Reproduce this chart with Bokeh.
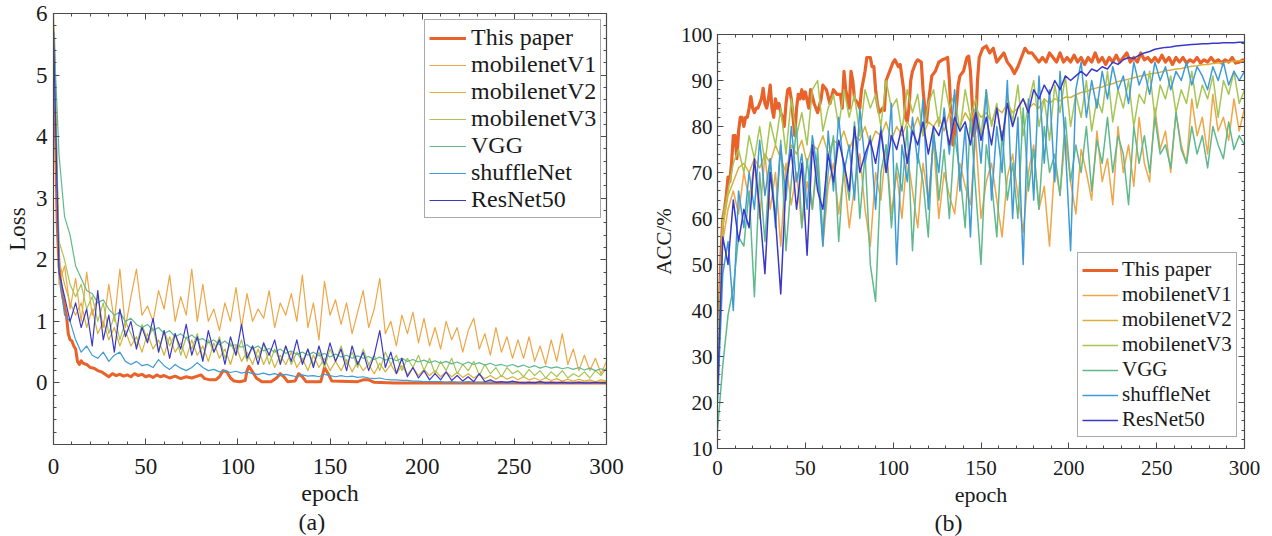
from bokeh.plotting import figure
from bokeh.models import (Range1d, LinearAxis, FixedTicker, Legend, LegendItem,
                          Title, CustomJSTickFormatter)
from bokeh.layouts import row, column
from bokeh.embed import file_html
from bokeh.resources import INLINE

# ---------------- data ----------------
series_names = ["This paper", "mobilenetV1", "mobilenetV2", "mobilenetV3",
                "VGG", "shuffleNet", "ResNet50"]
epochs = list(range(0, 301, 3))  # sampled epochs for the noisy curves

# ---- (a) Loss ----
loss_ours_epoch = [0, 1, 2, 3, 4, 5, 6, 7, 8, 9, 10, 11, 12, 13, 14, 15, 16, 18, 20, 22, 24, 26, 28,
                   30, 32, 34, 36, 38, 40, 42, 44, 46, 48, 50, 52, 54, 56, 58, 60, 63, 66, 69, 72,
                   75, 78, 80, 82, 85, 88, 90, 92, 94, 96, 98, 101, 104, 105, 106, 108, 110, 113,
                   118, 121, 123, 125, 127, 131, 133, 135, 137, 145, 147, 149, 151, 165, 168, 171,
                   174, 185, 300]
loss_ours = [5.7, 4.2, 2.6, 1.9, 1.6, 1.4, 1.25, 1.1, 0.8, 0.7, 0.68, 0.6, 0.55, 0.35, 0.3, 0.36,
             0.32, 0.3, 0.25, 0.24, 0.2, 0.18, 0.14, 0.1, 0.15, 0.12, 0.14, 0.11, 0.13, 0.1, 0.15,
             0.12, 0.14, 0.1, 0.12, 0.09, 0.13, 0.1, 0.12, 0.08, 0.11, 0.07, 0.1, 0.08, 0.11, 0.13,
             0.07, 0.05, 0.05, 0.1, 0.2, 0.18, 0.08, 0.03, 0.02, 0.04, 0.2, 0.27, 0.18, 0.08, 0.02,
             0.02, 0.08, 0.15, 0.1, 0.02, 0.03, 0.15, 0.1, 0.02, 0.02, 0.25, 0.15, 0.03, 0.02,
             0.05, 0.05, 0.01, 0.0, 0.0]

loss_v1 = [6.0, 1.6, 1.9, 1.2, 1.7, 1.0, 1.8, 1.1, 1.4, 0.9,
           1.6, 1.0, 1.85, 0.9, 1.4, 1.85, 1.1, 1.25, 1.0, 1.5,
           1.2, 1.75, 1.0, 1.4, 1.1, 1.85, 1.0, 1.6, 1.0, 1.2,
           0.85, 1.3, 1.0, 1.55, 0.9, 1.45, 1.0, 1.2, 1.05, 1.5,
           0.9, 1.3, 1.1, 1.45, 1.0, 1.75, 0.9, 1.3, 0.7, 1.65,
           1.1, 1.35, 0.95, 1.3, 0.8, 1.15, 1.5, 0.9, 1.2, 1.7,
           0.8, 1.0, 0.6, 1.1, 0.8, 1.15, 0.65, 1.05, 0.6, 0.9,
           0.55, 1.0, 0.7, 0.9, 0.5, 0.85, 1.05, 0.55, 0.8, 0.45,
           0.9, 0.5, 0.75, 0.4, 0.7, 0.4, 0.75, 0.35, 0.6, 0.3,
           0.7, 0.35, 0.8, 0.3, 0.55, 0.2, 0.45, 0.2, 0.4, 0.15,
           0.35]
loss_v2 = [5.9, 2.0, 1.6, 1.3, 1.1, 1.3, 0.9, 1.2, 0.8, 1.0,
           0.7, 0.9, 0.6, 0.85, 0.6, 0.75, 0.5, 0.8, 0.55, 0.7,
           0.45, 0.75, 0.5, 0.65, 0.4, 0.7, 0.45, 0.6, 0.35, 0.65,
           0.4, 0.55, 0.3, 0.6, 0.35, 0.5, 0.3, 0.55, 0.3, 0.5,
           0.25, 0.45, 0.3, 0.5, 0.25, 0.4, 0.2, 0.45, 0.25, 0.4,
           0.2, 0.35, 0.2, 0.38, 0.18, 0.35, 0.2, 0.3, 0.15, 0.32,
           0.18, 0.3, 0.15, 0.28, 0.14, 0.25, 0.12, 0.22, 0.12, 0.2,
           0.1, 0.18, 0.1, 0.17, 0.09, 0.15, 0.08, 0.14, 0.07, 0.12,
           0.06, 0.12, 0.06, 0.1, 0.05, 0.1, 0.05, 0.08, 0.04, 0.08,
           0.04, 0.07, 0.03, 0.06, 0.03, 0.06, 0.03, 0.05, 0.02, 0.05,
           0.03]
loss_v3 = [5.8, 2.3, 2.0, 1.6, 1.4, 1.6, 1.2, 1.4, 1.0, 1.3,
           0.8, 1.1, 0.7, 1.0, 0.8, 0.6, 0.95, 0.7, 0.9, 0.5,
           0.85, 0.6, 0.8, 0.45, 0.75, 0.55, 0.8, 0.4, 0.7, 0.5,
           0.75, 0.4, 0.65, 0.45, 0.7, 0.35, 0.6, 0.4, 0.65, 0.3,
           0.55, 0.35, 0.6, 0.3, 0.5, 0.35, 0.55, 0.3, 0.5, 0.25,
           0.55, 0.35, 0.6, 0.3, 0.5, 0.25, 0.55, 0.3, 0.45, 0.2,
           0.5, 0.3, 0.45, 0.2, 0.4, 0.25, 0.45, 0.2, 0.4, 0.15,
           0.35, 0.2, 0.4, 0.15, 0.3, 0.2, 0.35, 0.12, 0.3, 0.15,
           0.25, 0.1, 0.25, 0.15, 0.2, 0.1, 0.22, 0.12, 0.2, 0.08,
           0.18, 0.1, 0.2, 0.08, 0.15, 0.1, 0.18, 0.08, 0.2, 0.12,
           0.25]
loss_vgg = [5.8, 3.7, 2.7, 2.4, 1.9, 1.7, 1.5, 1.45, 1.3, 1.35,
            1.2, 1.1, 1.15, 1.0, 1.05, 0.95, 0.9, 0.95, 0.85, 0.9,
            0.8, 0.85, 0.75, 0.8, 0.72, 0.78, 0.7, 0.72, 0.65, 0.7,
            0.62, 0.68, 0.6, 0.62, 0.58, 0.62, 0.55, 0.6, 0.52, 0.56,
            0.5, 0.55, 0.48, 0.52, 0.46, 0.5, 0.45, 0.5, 0.44, 0.48,
            0.42, 0.47, 0.42, 0.45, 0.4, 0.44, 0.4, 0.43, 0.38, 0.42,
            0.37, 0.4, 0.36, 0.4, 0.35, 0.38, 0.34, 0.37, 0.33, 0.36,
            0.32, 0.35, 0.31, 0.34, 0.3, 0.34, 0.3, 0.33, 0.29, 0.32,
            0.28, 0.3, 0.27, 0.3, 0.26, 0.29, 0.25, 0.28, 0.24, 0.27,
            0.24, 0.26, 0.23, 0.25, 0.22, 0.25, 0.21, 0.24, 0.2, 0.23,
            0.2]
loss_shuffle = [5.7, 1.8, 1.1, 1.0, 0.7, 0.5, 0.6, 0.45, 0.4, 0.5,
                0.35, 0.45, 0.5, 0.35, 0.3, 0.35, 0.28, 0.3, 0.25, 0.38,
                0.28, 0.22, 0.3, 0.24, 0.2, 0.25, 0.33, 0.25, 0.2, 0.22,
                0.18, 0.2, 0.17, 0.19, 0.16, 0.18, 0.15, 0.14, 0.16, 0.13,
                0.15, 0.12, 0.14, 0.12, 0.1, 0.13, 0.11, 0.12, 0.1, 0.14,
                0.12, 0.1, 0.12, 0.1, 0.11, 0.09, 0.1, 0.08, 0.07, 0.08,
                0.06, 0.05, 0.05, 0.04, 0.04, 0.03, 0.03, 0.02, 0.02, 0.02,
                0.02, 0.01, 0.02, 0.01, 0.01, 0.02, 0.01, 0.01, 0.01, 0.01,
                0.01, 0.01, 0.0, 0.01, 0.01, 0.0, 0.01, 0.0, 0.01, 0.0,
                0.01, 0.0, 0.01, 0.0, 0.0, 0.01, 0.0, 0.0, 0.01, 0.0,
                0.0]
loss_resnet = [5.7, 1.8, 1.4, 1.0, 1.3, 0.9, 1.2, 0.6, 1.5, 0.7,
               1.1, 0.5, 1.2, 0.75, 1.0, 0.55, 0.9, 0.65, 1.05, 0.5,
               0.85, 0.4, 0.8, 0.55, 0.95, 0.45, 0.75, 0.35, 0.85, 0.5,
               0.7, 0.3, 0.75, 0.45, 0.95, 0.4, 0.6, 0.3, 0.65, 0.45,
               0.7, 0.3, 0.6, 0.35, 0.7, 0.3, 0.55, 0.25, 0.6, 0.3,
               0.65, 0.35, 0.55, 0.2, 0.6, 0.3, 0.5, 0.2, 0.45, 0.85,
               0.25, 0.5, 0.15, 0.4, 0.1, 0.25, 0.08, 0.2, 0.05, 0.15,
               0.05, 0.18, 0.04, 0.12, 0.03, 0.1, 0.02, 0.15, 0.02, 0.05,
               0.01, 0.02, 0.01, 0.03, 0.01, 0.0, 0.01, 0.0, 0.02, 0.0,
               0.01, 0.0, 0.01, 0.0, 0.0, 0.01, 0.0, 0.0, 0.01, 0.0,
               0.0]

# ---- (b) ACC ----
acc_ours_epoch = [0, 1, 2, 3, 4, 5, 6, 7, 8, 9, 10, 11, 12, 13, 14, 15, 16, 17, 18, 19, 20, 21, 22,
                  23, 24, 25, 26, 27, 28, 29, 30, 31, 32, 33, 34, 35, 36, 37, 38, 39, 40, 41, 42,
                  43, 44, 45, 46, 47, 48, 49, 50, 52, 53, 55, 57, 59, 60, 62, 64, 66, 68, 70, 71,
                  72, 73, 75, 76, 77, 78, 80, 81, 82, 84, 85, 87, 88, 89, 90, 91, 92, 94, 95, 96,
                  98, 100, 101, 103, 104, 106, 107, 108, 109, 110, 111, 113, 114, 116, 117, 118,
                  119, 120, 122, 124, 126, 128, 130, 131, 132, 133, 134, 135, 136, 137, 138, 140,
                  142, 143, 144, 145, 146, 147, 148, 149, 151, 153, 155, 157, 159, 161, 163, 165,
                  167, 169, 171, 173, 175, 177, 179, 181, 183, 185, 187, 189, 191, 193, 195, 197,
                  199, 201, 203, 205, 207, 209, 211, 213, 215, 217, 219, 221, 223, 225, 227, 229,
                  231, 233, 235, 237, 239, 241, 243, 245, 247, 249, 251, 253, 255, 257, 259, 261,
                  263, 265, 267, 269, 271, 273, 275, 277, 279, 281, 283, 285, 287, 289, 291, 293,
                  295, 297, 299, 300]
acc_ours = [24, 40, 52, 60, 62, 65, 69, 68, 72, 78, 78, 73, 79, 82, 82, 80, 82, 82, 84, 86.5, 84,
            83, 84, 84, 85, 86, 88.3, 85, 84, 86, 89, 84, 82, 86, 84, 85, 83, 82, 80, 85, 88,
            88.3, 86, 82, 78, 84, 87, 86, 88, 86, 87.5, 84, 88, 85, 83, 86, 89, 88, 85, 88, 87,
            87, 84, 92, 88, 84, 92, 90, 86, 85, 84, 88, 92, 95, 95, 93, 93, 88, 85, 83, 84, 83.5,
            90, 92, 94, 94.5, 93, 93.5, 88, 82, 81, 84, 90, 92, 94, 94.5, 94, 88, 84, 81, 85, 91,
            92, 94, 94.5, 94.8, 95, 90, 82, 76, 78, 84, 89, 91, 92, 95, 95.3, 92, 85, 78, 80, 90,
            95, 97, 97.5, 96, 97, 94, 95, 96, 94, 93, 91.5, 93, 95, 97, 96, 96, 95, 94, 95, 94,
            96, 95, 94, 96, 94, 95, 94, 95.5, 94, 95, 93.5, 95, 94, 96, 94, 95, 93.5, 95, 94,
            95.5, 94, 95, 96, 94, 95, 94, 96, 94.5, 95, 94, 95, 94, 95.5, 94, 95, 93.5, 95, 94,
            95, 93.8, 94.5, 94, 95, 93.8, 94.5, 94, 95, 94, 94.5, 93.8, 94.5, 94, 95, 93.8, 94,
            94.5, 94.3]

acc_v1 = [25, 55, 62, 66, 61, 70, 64, 72, 60, 74,
          62, 70, 54, 72, 63, 70, 58, 68, 62, 73,
          54, 67, 72, 61, 70, 58, 67, 74, 62, 54,
          70, 64, 76, 61, 70, 60, 74, 66, 58, 72,
          64, 77, 60, 70, 65, 61, 72, 67, 63, 78,
          60, 68, 72, 64, 56, 69, 74, 65, 57, 70,
          76, 62, 67, 54, 72, 65, 78, 68, 61, 75,
          70, 64, 79, 68, 73, 63, 80, 70, 76, 67,
          82, 72, 68, 84, 75, 79, 70, 83, 76, 72,
          86, 78, 82, 74, 87, 79, 82, 77, 86, 79,
          84]
acc_v2 = [30, 58, 65, 68, 71, 72, 70, 73, 71, 74,
          72, 76, 73, 70, 76, 74, 77, 72, 76, 75,
          78, 74, 77, 76, 79, 75, 78, 77, 80, 76,
          79, 78, 81, 77, 80, 78, 81, 79, 82, 78,
          81, 80, 82, 79, 83, 81, 80, 83, 81, 84,
          82, 83, 81, 84, 83, 85, 83, 84, 86, 84,
          85, 84, 86, 85, 86, 85.6, 86.4, 86.3, 86.9, 87.4,
          87.6, 88.1, 88.4, 88.6, 89.1, 89.3, 89.8, 90.0, 90.3, 90.6,
          90.9, 91.1, 91.4, 91.6, 91.8, 92.1, 92.3, 92.5, 92.6, 92.9,
          93.1, 93.2, 93.4, 93.5, 93.7, 93.8, 93.9, 94.0, 94.2, 94.3,
          94.3]
acc_v3 = [28, 60, 66, 72, 75, 70, 78, 73, 80, 72,
          81, 76, 84, 74, 86, 78, 83, 76, 88, 90,
          79, 84, 87, 80, 88, 82, 87, 78, 88, 84,
          87, 80, 90, 84, 86, 79, 88, 83, 87, 78,
          85, 88, 80, 90, 84, 87, 79, 88, 82, 86,
          78, 88, 80, 85, 76, 87, 81, 89, 78, 85,
          90, 80, 86, 77, 89, 83, 91, 80, 87, 82,
          90, 79, 86, 83, 92, 81, 88, 84, 90, 80,
          87, 85, 92, 82, 89, 86, 91, 83, 88, 85,
          92, 84, 89, 86, 91, 82, 90, 87, 92, 85,
          88]
acc_vgg = [14, 28, 39, 45, 56, 54, 66, 43, 70, 55,
           73, 60, 77, 53, 68, 80, 58, 73, 62, 75,
           56, 70, 78, 55, 72, 64, 81, 60, 74, 50,
           42, 70, 76, 58, 72, 66, 80, 53, 74, 68,
           56, 80, 64, 75, 60, 78, 70, 58, 82, 66,
           50, 76, 68, 56, 79, 64, 72, 60, 84, 66,
           75, 62, 80, 70, 74, 65, 82, 68, 76, 70,
           80, 66, 77, 72, 82, 70, 78, 74, 63, 80,
           72, 78, 70, 82, 74, 76, 71, 83, 75, 72,
           80, 74, 78, 71, 80, 76, 73, 81, 75, 78,
           76]
acc_shuffle = [20, 48, 55, 40, 66, 58, 70, 62, 77, 65,
               73, 58, 76, 64, 80, 68, 74, 62, 78, 70,
               54, 79, 66, 82, 70, 76, 64, 84, 72, 78,
               62, 80, 70, 85, 50, 76, 68, 82, 72, 86,
               62, 78, 70, 84, 74, 88, 66, 80, 56, 84,
               72, 88, 64, 80, 70, 90, 60, 82, 50, 86,
               64, 91, 72, 88, 68, 92, 76, 53, 88, 94,
               82, 90, 84, 92, 86, 93, 88, 91, 85, 94,
               89, 92, 87, 94, 90, 93, 88, 92, 90, 94,
               89, 93, 91, 88, 93, 90, 94, 89, 92, 90,
               92]
acc_resnet = [22, 56, 50, 64, 55, 62, 58, 73, 62, 48,
              70, 60, 43.6, 68, 75, 62, 72, 52, 76, 66,
              62, 74, 68, 77, 72, 66, 80, 70, 74, 77,
              72, 79, 70, 78, 75, 80, 72, 79, 76, 81,
              74, 80, 78, 82, 76, 82, 79, 81, 76, 83,
              77, 82, 76, 84, 77, 85, 80, 84, 86, 83,
              88, 86, 89, 87, 90, 88, 91, 90, 91, 92,
              91, 92.5, 92, 93, 92.5, 94, 93.5, 94.5, 95, 94.8,
              95.5, 96, 96.3, 96.8, 97, 97.2, 97.3, 97.5, 97.6, 97.7,
              97.8, 97.9, 98, 98, 98.1, 98.1, 98.2, 98.2, 98.2, 98.3,
              98.3]

loss_x_ticks = [0, 50, 100, 150, 200, 250, 300]
loss_y_ticks = [0, 1, 2, 3, 4, 5, 6]
acc_y_ticks = [10, 20, 30, 40, 50, 60, 70, 80, 90, 100]

for s in (loss_v1, loss_v2, loss_v3, loss_vgg, loss_shuffle, loss_resnet,
          acc_v1, acc_v2, acc_v3, acc_vgg, acc_shuffle, acc_resnet):
    assert len(s) == len(epochs), len(s)
assert len(loss_ours) == len(loss_ours_epoch)
assert len(acc_ours) == len(acc_ours_epoch)

# ---------------- styling ----------------
FONT = "Liberation Serif"
COLORS = ["#E8622A", "#EFA646", "#D9B03C", "#A6C552", "#5FB98D", "#3E9BD6", "#3B38C8"]
AX_COL = "#4a4a4a"
TXT_COL = "#1a1a1a"


def style_axis(ax, ticker, label_size, standoff, labels=True):
    ax.ticker = ticker
    ax.major_tick_in = 6
    ax.major_tick_out = 0
    ax.minor_tick_in = 3
    ax.minor_tick_out = 0
    ax.axis_line_color = AX_COL
    ax.major_tick_line_color = AX_COL
    ax.minor_tick_line_color = AX_COL
    ax.axis_line_width = 1.2
    if labels:
        ax.major_label_text_font = FONT
        ax.major_label_text_font_size = label_size
        ax.major_label_text_color = TXT_COL
        ax.major_label_standoff = standoff
    else:
        ax.formatter = CustomJSTickFormatter(code="return ''")
        ax.major_label_text_font_size = "0px"
        ax.major_label_standoff = 0


def make_panel(width, borders, yr, xticker, yticker, tick_fs, xstd, ystd,
               xlabel, ylabel, xl_fs, yl_fs, xl_std, yl_std):
    p = figure(width=width, height=536, x_range=Range1d(0, 300), y_range=Range1d(*yr),
               output_backend="svg", toolbar_location=None,
               min_border_left=borders[0], min_border_right=borders[1],
               min_border_top=borders[2], min_border_bottom=borders[3])
    p.xgrid.visible = False
    p.ygrid.visible = False
    p.outline_line_color = AX_COL
    p.background_fill_color = "white"
    p.border_fill_color = "white"
    style_axis(p.xaxis[0], xticker, tick_fs, xstd)
    style_axis(p.yaxis[0], yticker, tick_fs, ystd)
    p.xaxis[0].axis_label = xlabel
    p.yaxis[0].axis_label = ylabel
    for ax, fs, std in ((p.xaxis[0], xl_fs, xl_std), (p.yaxis[0], yl_fs, yl_std)):
        ax.axis_label_text_font = FONT
        ax.axis_label_text_font_size = fs
        ax.axis_label_text_font_style = "normal"
        ax.axis_label_text_color = TXT_COL
        ax.axis_label_standoff = std
    top = LinearAxis()
    style_axis(top, xticker, tick_fs, 0, labels=False)
    p.add_layout(top, "above")
    right = LinearAxis()
    style_axis(right, yticker, tick_fs, 0, labels=False)
    p.add_layout(right, "right")
    return p


def style_legend(leg, fs, glyph_w, item_h, standoff):
    leg.label_text_font = FONT
    leg.label_text_font_size = fs
    leg.label_text_color = TXT_COL
    leg.glyph_width = glyph_w
    leg.glyph_height = item_h
    leg.label_height = item_h
    leg.label_standoff = standoff
    leg.spacing = 0
    leg.padding = 4
    leg.margin = 0
    leg.border_line_color = "#555555"
    leg.border_line_width = 1.2
    leg.background_fill_alpha = 1


x_ticker = FixedTicker(ticks=loss_x_ticks, minor_ticks=list(range(0, 301, 10)))

# ---- panel (a) ----
p1 = make_panel(640, (53, 34, 13, 92), (-1, 6), x_ticker,
                FixedTicker(ticks=loss_y_ticks, minor_ticks=[round(-1 + 0.2 * i, 1) for i in range(36)]),
                "23px", 14, 6, "epoch", "Loss", "24px", "23px", 3, 3)

loss_series = [(loss_ours_epoch, loss_ours), (epochs, loss_v1), (epochs, loss_v2), (epochs, loss_v3),
               (epochs, loss_vgg), (epochs, loss_shuffle), (epochs, loss_resnet)]
items1 = []
for i, (xs, ys) in enumerate(loss_series):
    r = p1.line(xs, ys, line_color=COLORS[i], line_width=3.0 if i == 0 else 1.2,
                line_join="round")
    items1.append(LegendItem(label=series_names[i], renderers=[r]))

leg1 = Legend(items=items1, location=(371, 226))
style_legend(leg1, "24px", 37, 26, 5)
p1.add_layout(leg1)

p1.add_layout(Title(text="(a)", align="left", offset=245, standoff=-4, text_font=FONT,
                    text_font_size="24px", text_font_style="normal", text_color=TXT_COL),
              "below")

# ---- panel (b) ----
p2 = make_panel(632, (77, 28, 34, 88), (10, 100), x_ticker,
                FixedTicker(ticks=acc_y_ticks, minor_ticks=list(range(10, 101, 2))),
                "21px", 12, 5, "epoch", "ACC/%", "22px", "21px", 4, 2)

acc_series = [(acc_ours_epoch, acc_ours), (epochs, acc_v1), (epochs, acc_v2), (epochs, acc_v3),
              (epochs, acc_vgg), (epochs, acc_shuffle), (epochs, acc_resnet)]
items2 = []
for i, (xs, ys) in enumerate(acc_series):
    r = p2.line(xs, ys, line_color=COLORS[i], line_width=3.2 if i == 0 else 1.5,
                line_join="round")
    items2.append(LegendItem(label=series_names[i], renderers=[r]))

leg2 = Legend(items=items2, location=(360, 11))
style_legend(leg2, "21px", 36, 24, 4)
p2.add_layout(leg2)

p2.add_layout(Title(text="(b)", align="left", offset=217, standoff=-4, text_font=FONT,
                    text_font_size="24px", text_font_style="normal", text_color=TXT_COL),
              "below")

layout = row(column(p1), column(p2))
open("out.html", "w").write(file_html(layout, INLINE))
